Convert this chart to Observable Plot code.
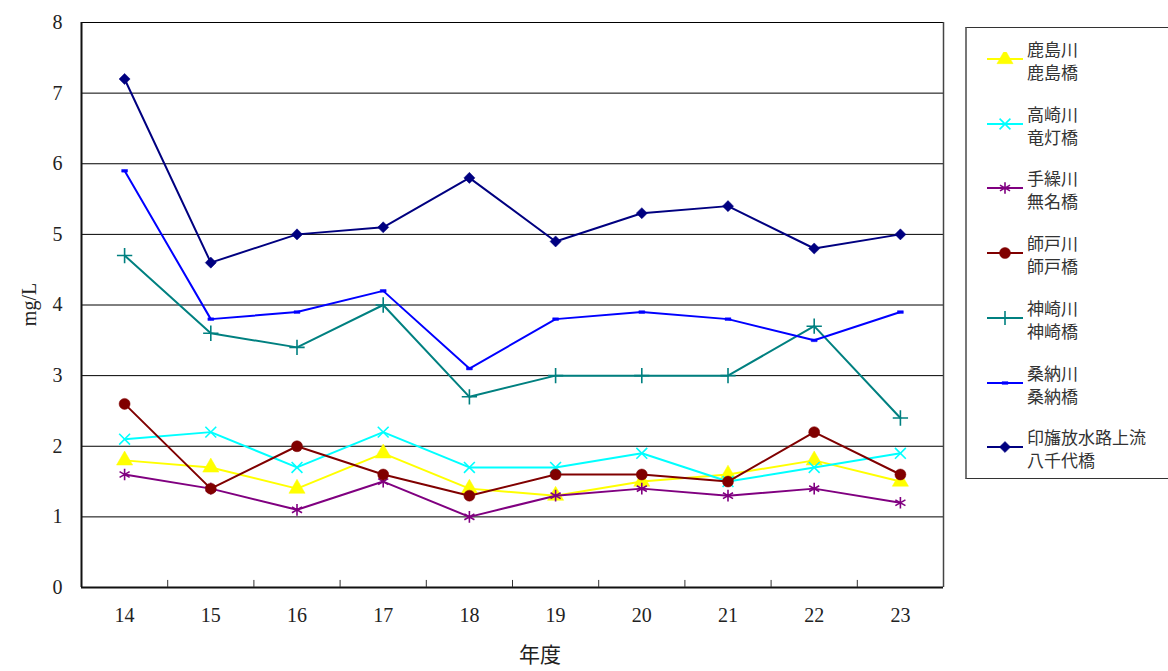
<!DOCTYPE html>
<html><head><meta charset="utf-8">
<script src="https://cdn.jsdelivr.net/npm/d3@7"></script>
<script src="https://cdn.jsdelivr.net/npm/@observablehq/plot@0.6"></script>
<style>
body{margin:0;background:#fff;}
#wrap{position:relative;width:1168px;height:671px;overflow:hidden;}
.lbl{position:absolute;font-family:"Liberation Serif","DejaVu Serif","Noto Sans CJK JP",serif;color:#222;}
#legend{position:absolute;left:965px;top:27px;width:210px;height:452px;border:1px solid #333;border-left:2px solid #777;box-sizing:border-box;background:#fff;font-family:"Noto Sans CJK JP",sans-serif;font-size:17px;color:#333;}
.item{position:absolute;left:20px;}
.item svg{position:absolute;left:0;top:3px;}
.item div{position:absolute;left:40px;top:-12px;line-height:23px;white-space:nowrap;}
</style></head>
<body><div id="wrap"></div>
<script>
const years = [14,15,16,17,18,19,20,21,22,23];
const yTicks = [0,1,2,3,4,5,6,7,8];
const seriesNames = ["鹿島川\n鹿島橋","高崎川\n竜灯橋","手繰川\n無名橋","師戸川\n師戸橋","神崎川\n神崎橋","桑納川\n桑納橋","印旛放水路上流\n八千代橋"];
const kashima   = [1.8,1.7,1.4,1.9,1.4,1.3,1.5,1.6,1.8,1.5];
const takasaki  = [2.1,2.2,1.7,2.2,1.7,1.7,1.9,1.5,1.7,1.9];
const tekuri    = [1.6,1.4,1.1,1.5,1.0,1.3,1.4,1.3,1.4,1.2];
const morooka   = [2.6,1.4,2.0,1.6,1.3,1.6,1.6,1.5,2.2,1.6];
const kanzaki   = [4.7,3.6,3.4,4.0,2.7,3.0,3.0,3.0,3.7,2.4];
const kanou     = [5.9,3.8,3.9,4.2,3.1,3.8,3.9,3.8,3.5,3.9];
const inba      = [7.2,4.6,5.0,5.1,5.8,4.9,5.3,5.4,4.8,5.0];
const seriesValues = [kashima,takasaki,tekuri,morooka,kanzaki,kanou,inba];
const colors = ["#FFFF00","#00FFFF","#800080","#800000","#008080","#0000FF","#000080"];

const dash = {draw(ctx, size){ const w = Math.sqrt(size); ctx.rect(-w*0.55,-w*0.25,w*1.1,w*0.5); }};
const styles = [
  {symbol:d3.symbolTriangle, r:6, fill:true},
  {symbol:d3.symbolTimes, r:5, fill:false},
  {symbol:d3.symbolAsterisk, r:5.5, fill:false},
  {symbol:d3.symbolCircle, r:5.5, fill:true},
  {symbol:d3.symbolPlus, r:5, fill:false},
  {symbol:dash, r:3, fill:true},
  {symbol:d3.symbolDiamond2, r:5, fill:true}
];

const bounds = years.slice(1).map(y => y - 0.5);
const xDomain = [years[0]-0.5, years[years.length-1]+0.5];

const marks = [
  Plot.ruleY(yTicks.slice(1), {stroke:"#000", strokeWidth:1}),
  Plot.ruleX([xDomain[1]], {stroke:"#444", strokeWidth:1.5}),
  Plot.ruleX([xDomain[0]], {stroke:"#111", strokeWidth:2}),
  Plot.ruleY([0], {stroke:"#111", strokeWidth:2}),
  Plot.ruleX(bounds, {y1:0, y2:0.1, stroke:"#333", strokeWidth:1}),
  Plot.axisY({ticks:yTicks, tickSize:0, tickPadding:19, label:null, fontSize:20}),
  Plot.axisX({ticks:years, tickSize:0, tickPadding:20, label:null, fontSize:20, tickFormat:d=>String(d)})
];
seriesValues.forEach((vals, i) => {
  const data = years.map((y, j) => ({year:y, value:vals[j]}));
  const st = styles[i];
  marks.push(Plot.line(data, {x:"year", y:"value", stroke:colors[i], strokeWidth:2}));
  marks.push(Plot.dot(data, {x:"year", y:"value", symbol:()=>st.symbol, r:st.r,
    fill: st.fill ? colors[i] : "none", stroke: colors[i], strokeWidth: st.fill ? 0.5 : 1.6}));
});

const chart = Plot.plot({
  width:1168, height:671,
  marginLeft:81, marginRight:225, marginTop:22, marginBottom:84,
  x:{type:"linear", domain:xDomain},
  y:{domain:[0,8]},
  symbol:{type:"identity"},
  style:{fontFamily:'"Liberation Serif","DejaVu Serif",serif', fontSize:"20px", color:"#222", background:"#fff"},
  marks
});
const wrap = document.getElementById("wrap");
wrap.appendChild(chart);

// axis titles
const yl = document.createElement("div");
yl.className = "lbl"; yl.textContent = "mg/L";
yl.style.cssText = "left:4px;top:293px;font-size:20px;transform:rotate(-90deg);transform-origin:center;width:50px;text-align:center;";
wrap.appendChild(yl);
const xl = document.createElement("div");
xl.className = "lbl"; xl.textContent = "年度";
xl.style.cssText = "left:500px;top:643px;width:80px;text-align:center;font-size:21px;line-height:21px;font-family:'Noto Sans CJK JP',serif;";
wrap.appendChild(xl);

// legend
const lg = document.createElement("div"); lg.id = "legend";
seriesNames.forEach((name, i) => {
  const it = document.createElement("div"); it.className = "item";
  it.style.top = (21 + i*64.7) + "px";
  const s = d3.create("svg").attr("width",38).attr("height",14);
  s.append("line").attr("x1",0).attr("x2",36).attr("y1",7).attr("y2",7).attr("stroke",colors[i]).attr("stroke-width",2);
  const st = styles[i];
  s.append("path").attr("transform","translate(18,7)")
    .attr("d", d3.symbol(st.symbol, Math.PI*st.r*st.r)())
    .attr("fill", st.fill ? colors[i] : "none").attr("stroke", colors[i]).attr("stroke-width", st.fill?0.5:1.6);
  it.appendChild(s.node());
  const t = document.createElement("div");
  t.innerHTML = name.replace("\n","<br>");
  it.appendChild(t);
  lg.appendChild(it);
});
wrap.appendChild(lg);
</script></body></html>
